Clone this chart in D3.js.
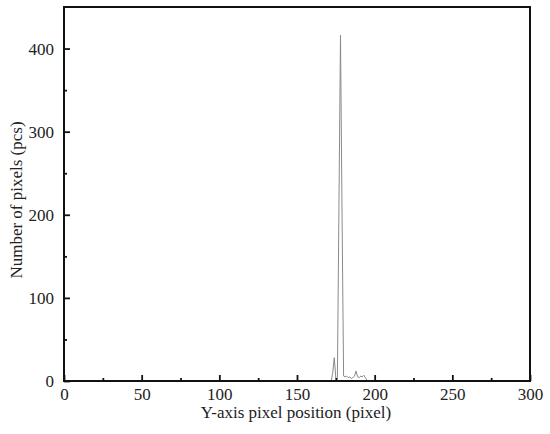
<!DOCTYPE html>
<html><head><meta charset="utf-8">
<script src="https://cdn.jsdelivr.net/npm/d3@7"></script>
<style>body{margin:0;background:#fff} svg text{font-family:"Liberation Serif","Times New Roman","DejaVu Serif",serif !important;}</style>
</head><body>
<svg id="c" width="550" height="434"></svg>
<script>
const positions = [0, 172, 173, 174, 175, 176, 177, 178, 179, 180, 181, 182, 183, 184, 185, 186, 187, 188, 189, 190, 191, 192, 193, 194, 195, 196, 300];
const counts    = [0, 0, 10, 28, 3, 2, 210, 416, 200, 6, 5, 6, 4, 5, 3, 4, 6, 12, 5, 4, 6, 5, 7, 4, 1, 0, 0];
const xTicks = [0, 50, 100, 150, 200, 250, 300];
const yTicks = [0, 100, 200, 300, 400];
const xMinor = [25, 75, 125, 175, 225, 275];
const yMinor = [50, 150, 250, 350];
const xTitle = "Y-axis pixel position (pixel)";
const yTitle = "Number of pixels (pcs)";

const svg = d3.select("#c");
const L = 64, R = 530, T = 7, B = 381;
const x = d3.scaleLinear().domain([0, 300]).range([L, R]);
const y = d3.scaleLinear().domain([0, 450]).range([B, T]);

const data = positions.map((p, i) => ({p, c: counts[i]}));
svg.append("path").datum(data)
  .attr("fill", "none").attr("stroke", "#8a8a8a").attr("stroke-width", 1)
  .attr("d", d3.line().x(d => x(d.p)).y(d => y(d.c)));

// axes
const xAx = svg.append("g").attr("transform", `translate(0,${B})`)
  .call(d3.axisBottom(x).tickValues(xTicks).tickSizeInner(-6).tickSizeOuter(0).tickPadding(9));
const xAxMinor = svg.append("g").attr("transform", `translate(0,${B})`)
  .call(d3.axisBottom(x).tickValues(xMinor).tickSizeInner(-3).tickSizeOuter(0).tickFormat(""));
const yAx = svg.append("g").attr("transform", `translate(${L},0)`)
  .call(d3.axisLeft(y).tickValues(yTicks).tickSizeInner(-6).tickSizeOuter(0).tickPadding(10));
const yAxMinor = svg.append("g").attr("transform", `translate(${L},0)`)
  .call(d3.axisLeft(y).tickValues(yMinor).tickSizeInner(-3).tickSizeOuter(0).tickFormat(""));
[xAx, xAxMinor, yAx, yAxMinor].forEach(g => {
  g.select(".domain").remove();
  g.selectAll("line").attr("stroke", "#111").attr("stroke-width", 1.8);
  g.selectAll("text").attr("font-size", 17).attr("fill", "#222");
});
xAx.selectAll("text").attr("y", 7).attr("dy", "0.71em");
yAx.selectAll("text").attr("dy", "0.34em");

// frame
svg.append("rect").attr("x", L).attr("y", T).attr("width", R - L).attr("height", B - T)
  .attr("fill", "none").attr("stroke", "#111").attr("stroke-width", 2);

svg.append("text").attr("x", (L + R) / 2 - 1).attr("y", 418).attr("text-anchor", "middle")
  .attr("font-size", 17).attr("fill", "#222").text(xTitle);
svg.append("text").attr("transform", `translate(22,${(T + B) / 2 + 6}) rotate(-90)`).attr("text-anchor", "middle")
  .attr("font-size", 17).attr("fill", "#222").text(yTitle);
</script>
</body></html>
